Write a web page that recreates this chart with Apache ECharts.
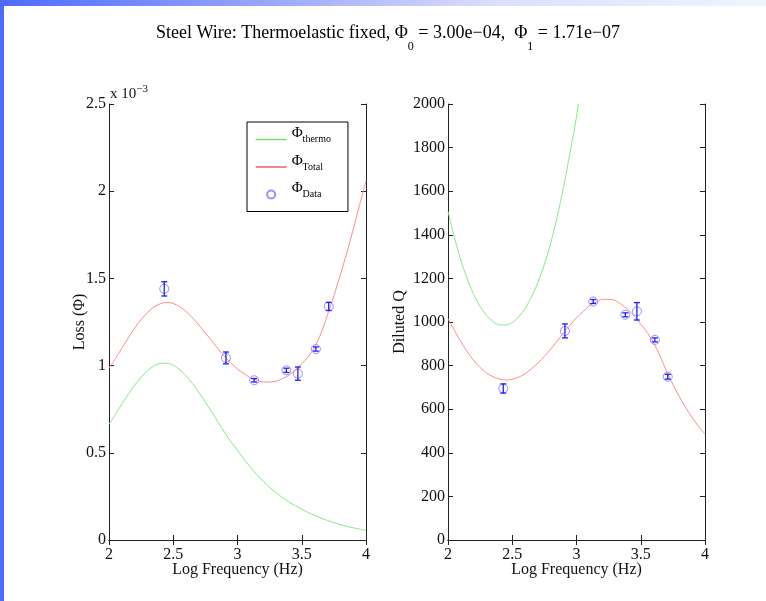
<!DOCTYPE html>
<html lang="en">
<head>
    <meta charset="UTF-8">
    <title>Steel Wire: Thermoelastic fixed</title>
    <script src="https://cdn.jsdelivr.net/npm/echarts@6/dist/echarts.min.js"></script>
</head>
<style type="text/css">
    html, body {
        margin: 0;
        padding: 0;
        background: #ffffff;
    }

    #main {
        width: 766px;
        height: 601px;
    }
</style>
<body>
<div id="main"></div>

<script>
    var freqGrid = [2.00, 2.05, 2.10, 2.15, 2.20, 2.25, 2.30, 2.35, 2.40, 2.45,
        2.50, 2.55, 2.60, 2.65, 2.70, 2.75, 2.80, 2.85, 2.90, 2.95,
        3.00, 3.05, 3.10, 3.15, 3.20, 3.25, 3.30, 3.35, 3.40, 3.45,
        3.50, 3.55, 3.60, 3.65, 3.70, 3.75, 3.80, 3.85, 3.90, 3.95, 4.00];
    // loss in units of 1e-3
    var thermoLoss = [0.663, 0.721, 0.779, 0.835, 0.888, 0.934, 0.971, 0.998, 1.013, 1.014,
        1.002, 0.977, 0.942, 0.897, 0.846, 0.791, 0.733, 0.674, 0.617, 0.562,
        0.515, 0.463, 0.418, 0.375, 0.337, 0.302, 0.272, 0.243, 0.218, 0.197,
        0.177, 0.158, 0.142, 0.126, 0.112, 0.099, 0.088, 0.078, 0.070, 0.062, 0.055];
    var totalLoss = [0.985, 1.040, 1.100, 1.159, 1.215, 1.264, 1.305, 1.336, 1.355, 1.362,
        1.356, 1.338, 1.310, 1.273, 1.232, 1.187, 1.141, 1.095, 1.052, 1.014,
        0.980, 0.955, 0.930, 0.917, 0.906, 0.906, 0.910, 0.926, 0.945, 0.975,
        1.010, 1.050, 1.105, 1.185, 1.290, 1.400, 1.520, 1.645, 1.780, 1.920, 2.060];
    // diluted Q (the green one leaves the plot above 2000)
    var thermoQ = [1508, 1387, 1284, 1198, 1126, 1071, 1030, 1002, 987, 986,
        998, 1024, 1062, 1115, 1182, 1264, 1364, 1484, 1621, 1779,
        1942, 2160, 2392];
    var totalQ = [1015, 962, 909, 863, 823, 791, 766, 749, 738, 734,
        737, 747, 763, 786, 812, 842, 876, 913, 951, 986,
        1020, 1047, 1075, 1091, 1104, 1104, 1099, 1080, 1058, 1026,
        990, 952, 905, 844, 775, 714, 658, 608, 562, 521, 485];

    // measured points with error bars
    var dataFreq = [2.43, 2.91, 3.13, 3.38, 3.47, 3.61, 3.71];
    var dataLoss = [1.44, 1.044, 0.916, 0.973, 0.954, 1.095, 1.339];
    var dataLossErr = [0.041, 0.034, 0.010, 0.012, 0.038, 0.012, 0.023];
    var dataQ = [695, 959, 1094, 1033, 1049, 918, 749];
    var dataQErr = [21, 32, 9, 9, 40, 9, 11];

    var serif = 'Liberation Serif';
    var axisColor = '#222';

    function pairs(xs, ys) {
        var out = [];
        for (var i = 0; i < ys.length; i++) {
            out.push([xs[i], ys[i]]);
        }
        return out;
    }

    function triples(xs, ys, es) {
        var out = [];
        for (var i = 0; i < ys.length; i++) {
            out.push([xs[i], ys[i], es[i]]);
        }
        return out;
    }

    function errorBars(params, api) {
        var x = api.value(0), y = api.value(1), e = api.value(2);
        var hi = api.coord([x, y + e]);
        var lo = api.coord([x, y - e]);
        var w = 3;
        var st = {stroke: '#1f1fff', lineWidth: 1.3};
        return {
            type: 'group',
            children: [
                {type: 'line', shape: {x1: hi[0], y1: hi[1], x2: lo[0], y2: lo[1]}, style: st},
                {type: 'line', shape: {x1: hi[0] - w, y1: hi[1], x2: hi[0] + w, y2: hi[1]}, style: st},
                {type: 'line', shape: {x1: lo[0] - w, y1: lo[1], x2: lo[0] + w, y2: lo[1]}, style: st}
            ]
        };
    }

    function plainNumber(v) {
        return String(v);
    }

    function xAxisPair(gridIndex) {
        var base = {
            type: 'value', gridIndex: gridIndex, min: 2, max: 4, interval: 0.5,
            axisLine: {show: true, lineStyle: {color: axisColor, width: 1}},
            axisTick: {show: true, inside: true, length: 5, lineStyle: {color: axisColor}},
            splitLine: {show: false}
        };
        var bottom = echarts.util.merge({
            position: 'bottom',
            name: 'Log Frequency (Hz)',
            nameLocation: 'middle',
            nameGap: 22,
            nameMoveOverlap: false,
            nameTextStyle: {fontFamily: serif, fontSize: 16, color: '#111'},
            axisLabel: {fontFamily: serif, fontSize: 16, color: '#111', margin: 7, formatter: plainNumber}
        }, base, true);
        var top = echarts.util.merge({position: 'top', axisLabel: {show: false}}, base, true);
        return [bottom, top];
    }

    function yAxisPair(gridIndex, max, interval, name, gap) {
        var base = {
            type: 'value', gridIndex: gridIndex, min: 0, max: max, interval: interval,
            axisLine: {show: true, lineStyle: {color: axisColor, width: 1}},
            axisTick: {show: true, inside: true, length: 5, lineStyle: {color: axisColor}},
            splitLine: {show: false}
        };
        var left = echarts.util.merge({
            position: 'left',
            name: name,
            nameLocation: 'middle',
            nameGap: gap,
            nameMoveOverlap: false,
            nameTextStyle: {fontFamily: serif, fontSize: 16, color: '#111'},
            axisLabel: {fontFamily: serif, fontSize: 16, color: '#111', margin: 3, formatter: plainNumber}
        }, base, true);
        var right = echarts.util.merge({position: 'right', axisLabel: {show: false}}, base, true);
        return [left, right];
    }

    var chart = echarts.init(document.getElementById('main'), null, {renderer: 'canvas'});

    var xs = xAxisPair(0).concat(xAxisPair(1));
    var ys = yAxisPair(0, 2.5, 0.5, 'Loss (\u03A6)', 21).concat(yAxisPair(1, 2000, 200, 'Diluted Q', 40));

    var green = '#86ea86';
    var red = '#ff8c8c';
    var ring = '#7878ff';
    var hiddenMark = {color: 'rgba(0,0,0,0)', borderColor: 'rgba(0,0,0,0)', borderWidth: 0};

    var option = {
        backgroundColor: '#ffffff',
        animation: false,
        title: {
            text: 'Steel Wire: Thermoelastic fixed, \u03A6{s|0} = 3.00e\u221204,  \u03A6{s|1} = 1.71e\u221207',
            left: 151,
            top: 8,
            textStyle: {
                fontFamily: serif, fontSize: 18, fontWeight: 'normal', color: '#000', lineHeight: 40,
                rich: {
                    s: {fontFamily: serif, fontSize: 12, lineHeight: 11, verticalAlign: 'bottom', color: '#000'}
                }
            }
        },
        legend: {
            orient: 'vertical',
            left: 247,
            top: 122,
            padding: [4, 17, 12, 8],
            itemGap: 9,
            itemWidth: 31,
            itemHeight: 8,
            borderColor: '#000',
            borderWidth: 1,
            backgroundColor: '#fff',
            data: [
                {name: 'thermo', itemStyle: hiddenMark, lineStyle: {color: '#66dd66', width: 1.3}},
                {name: 'Total', itemStyle: hiddenMark, lineStyle: {color: '#e84a4a', width: 1.3}},
                {name: 'Data'}
            ],
            formatter: function (name) {
                return '{p|\u03A6}{s|' + name + '}{h|\u200b}';
            },
            textStyle: {
                fontFamily: serif,
                color: '#000',
                rich: {
                    p: {fontFamily: serif, fontSize: 15, lineHeight: 14, verticalAlign: 'top', color: '#000'},
                    s: {fontFamily: serif, fontSize: 10, lineHeight: 12, verticalAlign: 'middle', color: '#000'},
                    h: {fontSize: 10, lineHeight: 27}
                }
            }
        },
        graphic: [
            {
                type: 'rect', left: 0, top: 0, silent: true,
                shape: {x: 0, y: 0, width: 766, height: 6},
                style: {
                    fill: new echarts.graphic.LinearGradient(0, 0, 1, 0, [
                        {offset: 0, color: '#4c6bff'},
                        {offset: 0.35, color: '#9aa6ff'},
                        {offset: 0.65, color: '#dcdfff'},
                        {offset: 1, color: '#f1f5fd'}
                    ])
                }
            },
            {
                type: 'rect', left: 0, top: 0, silent: true,
                shape: {x: 0, y: 0, width: 4, height: 601},
                style: {fill: '#4c6bff'}
            },
            {
                type: 'text', left: 110, top: 84, silent: true,
                style: {
                    text: 'x 10{e|\u22123}',
                    fontFamily: serif, fontSize: 15, fill: '#111', lineHeight: 20,
                    rich: {e: {fontFamily: serif, fontSize: 11, lineHeight: 10, verticalAlign: 'top', fill: '#111'}}
                }
            }
        ],
        grid: [
            {left: 109, top: 104, width: 257, height: 436, containLabel: false},
            {left: 448, top: 104, width: 257, height: 436, containLabel: false}
        ],
        xAxis: xs,
        yAxis: ys,
        series: [
            {
                name: 'thermo', type: 'line', xAxisIndex: 0, yAxisIndex: 0,
                data: pairs(freqGrid, thermoLoss), smooth: 0.3, symbol: 'none',
                lineStyle: {color: green, width: 1}, itemStyle: {color: green}
            },
            {
                name: 'Total', type: 'line', xAxisIndex: 0, yAxisIndex: 0,
                data: pairs(freqGrid, totalLoss), smooth: 0.3, symbol: 'none',
                lineStyle: {color: red, width: 1}, itemStyle: {color: red}
            },
            {
                name: 'Data', type: 'scatter', xAxisIndex: 0, yAxisIndex: 0,
                data: pairs(dataFreq, dataLoss), symbol: 'circle', symbolSize: 9,
                itemStyle: {color: 'rgba(0,0,0,0)', borderColor: ring, borderWidth: 1}
            },
            {
                type: 'custom', xAxisIndex: 0, yAxisIndex: 0, z: 5,
                data: triples(dataFreq, dataLoss, dataLossErr),
                renderItem: errorBars, encode: {x: 0, y: 1}
            },
            {
                name: 'thermo', type: 'line', xAxisIndex: 2, yAxisIndex: 2,
                data: pairs(freqGrid, thermoQ), smooth: 0.3, symbol: 'none', clip: true,
                lineStyle: {color: green, width: 1}, itemStyle: {color: green}
            },
            {
                name: 'Total', type: 'line', xAxisIndex: 2, yAxisIndex: 2,
                data: pairs(freqGrid, totalQ), smooth: 0.3, symbol: 'none',
                lineStyle: {color: red, width: 1}, itemStyle: {color: red}
            },
            {
                name: 'Data', type: 'scatter', xAxisIndex: 2, yAxisIndex: 2,
                data: pairs(dataFreq, dataQ), symbol: 'circle', symbolSize: 9,
                itemStyle: {color: 'rgba(0,0,0,0)', borderColor: ring, borderWidth: 1}
            },
            {
                type: 'custom', xAxisIndex: 2, yAxisIndex: 2, z: 5,
                data: triples(dataFreq, dataQ, dataQErr),
                renderItem: errorBars, encode: {x: 0, y: 1}
            }
        ]
    };

    chart.setOption(option);
</script>
</body>
</html>
